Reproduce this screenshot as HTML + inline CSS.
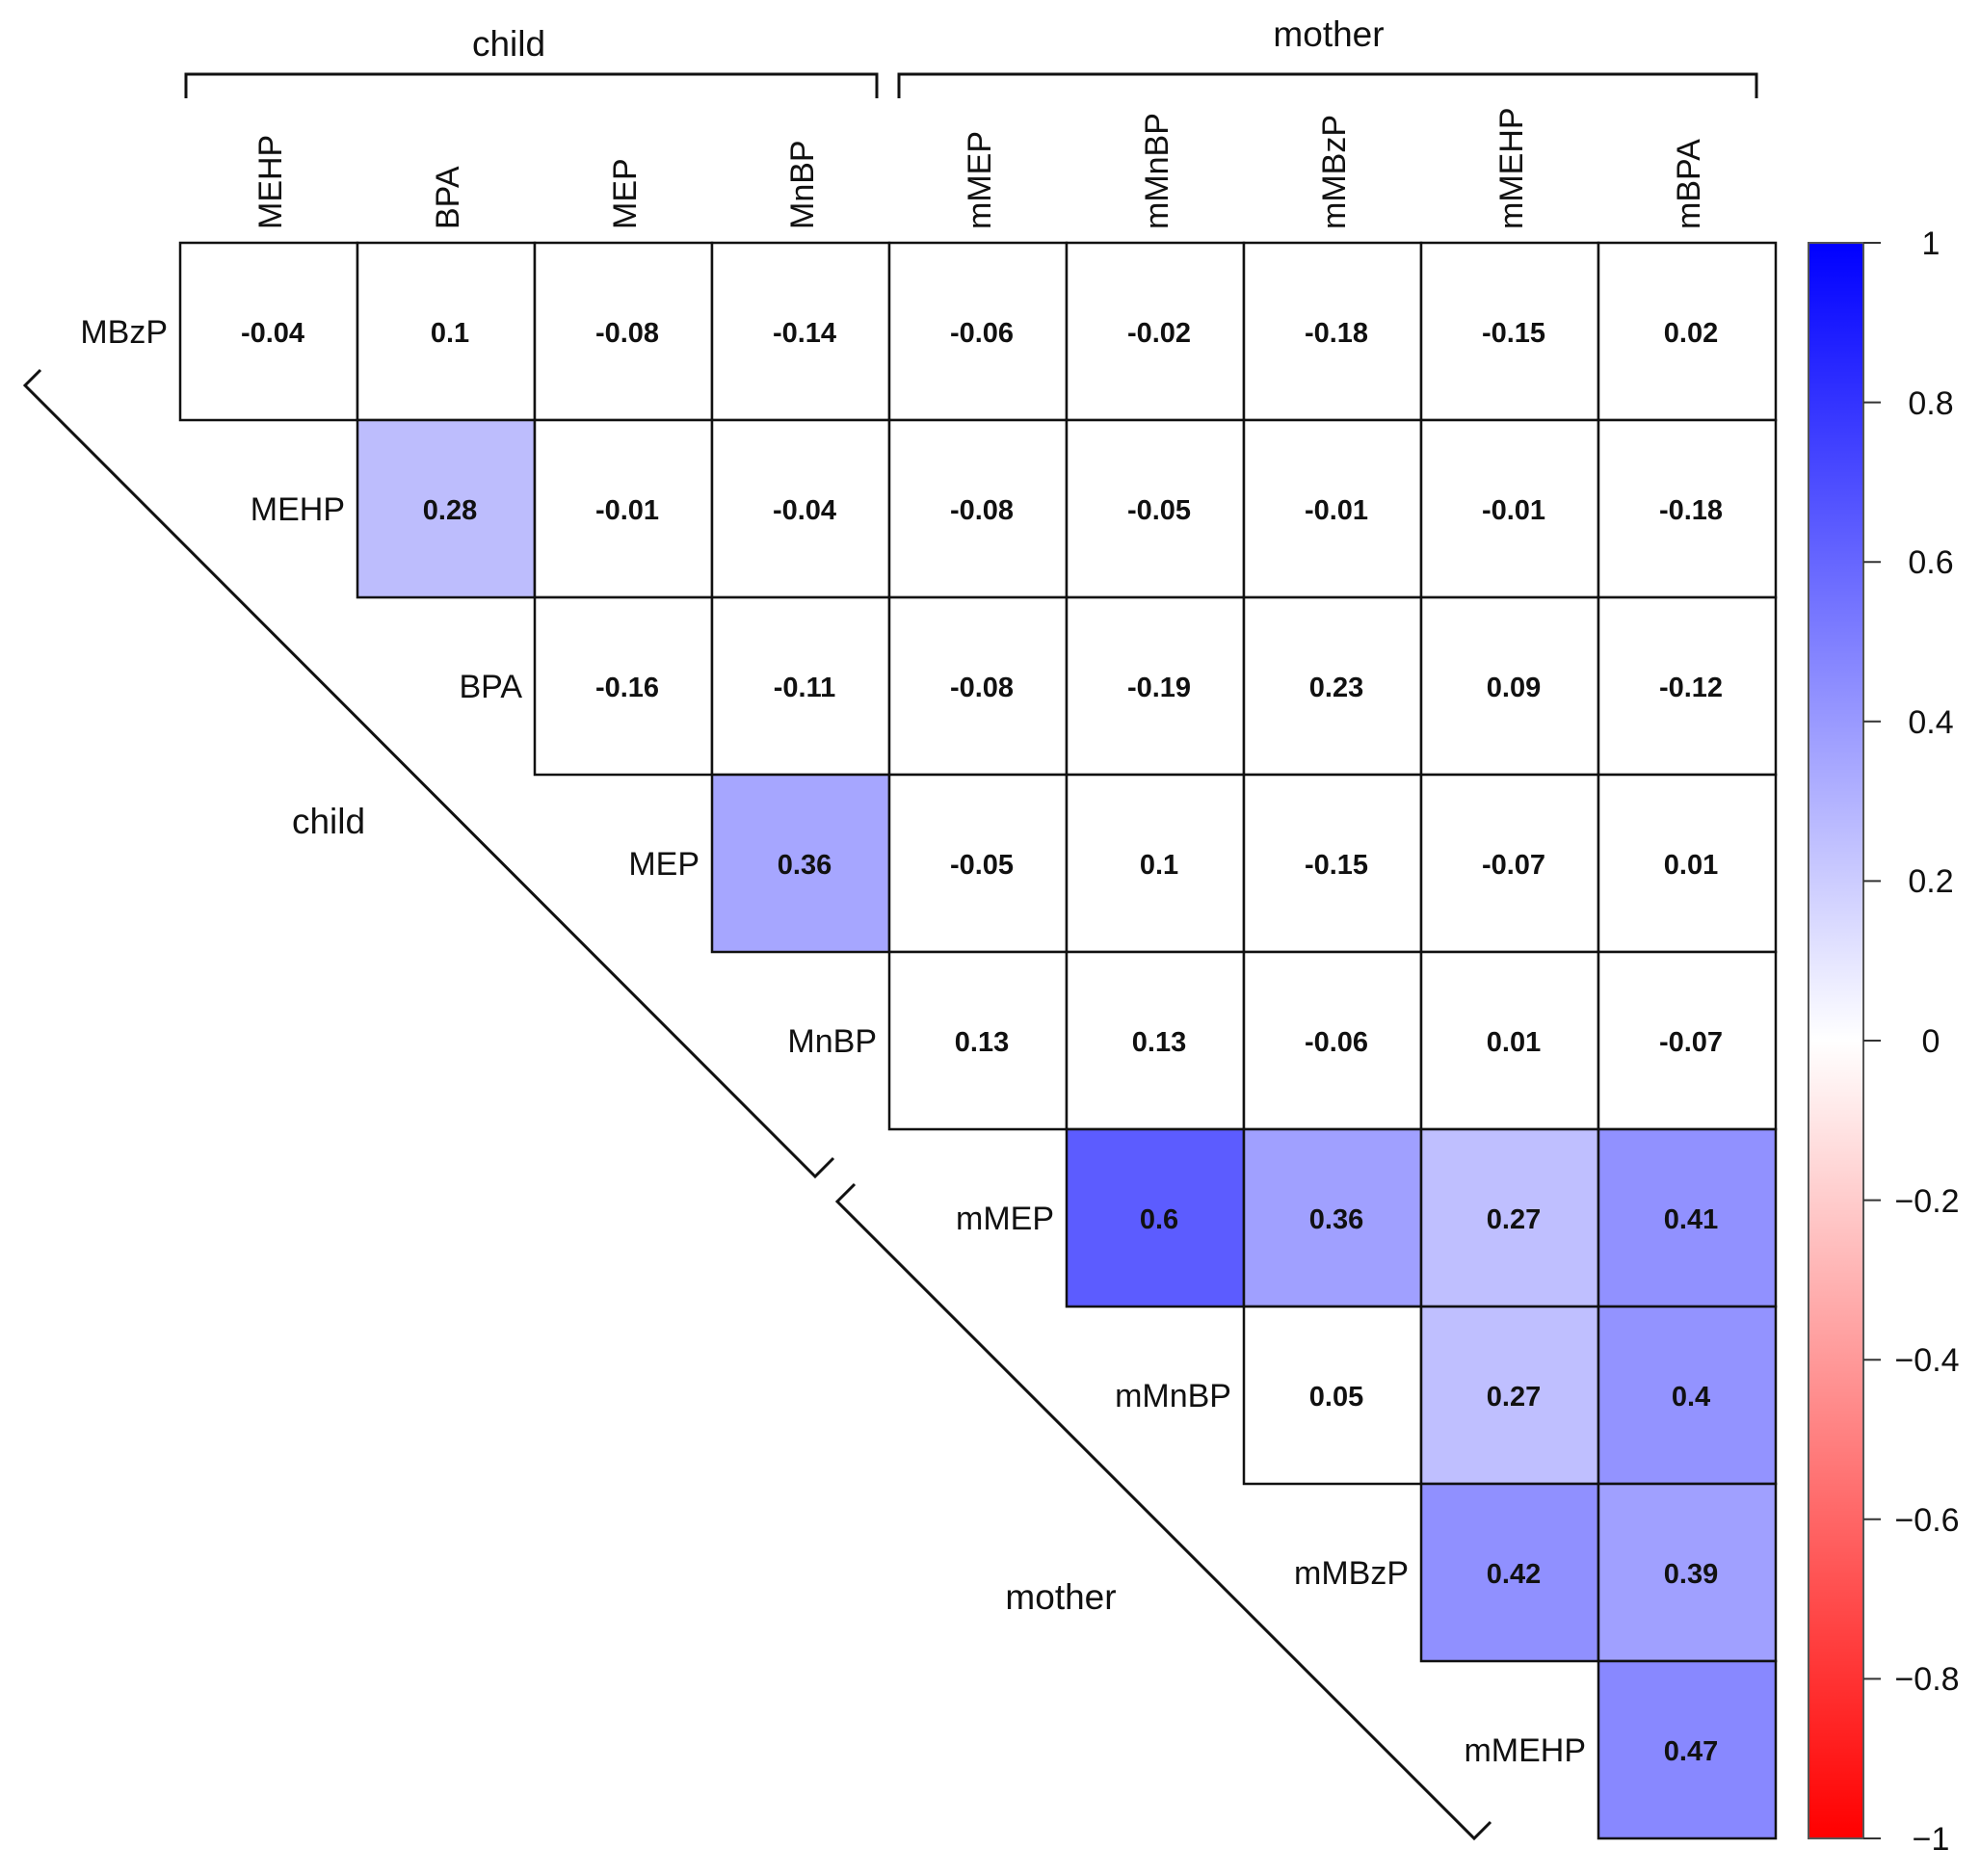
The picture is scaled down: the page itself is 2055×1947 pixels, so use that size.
<!DOCTYPE html>
<html><head><meta charset="utf-8"><style>
html,body{margin:0;padding:0;background:#fff}
svg{display:block}
text{font-family:"Liberation Sans",Arial,sans-serif;fill:#111}
.v{font-weight:bold;font-size:29px;text-anchor:middle}
.h{font-size:34px}
.r{font-size:34px;text-anchor:end}
.t{font-size:34px;text-anchor:middle}
</style></head><body>
<svg width="2055" height="1947" viewBox="0 0 2055 1947" xmlns="http://www.w3.org/2000/svg">
<defs>
<linearGradient id="cb" x1="0" y1="0" x2="0" y2="1">
<stop offset="0" stop-color="#0000ff"/>
<stop offset="0.5" stop-color="#ffffff"/>
<stop offset="1" stop-color="#ff0000"/>
</linearGradient>
</defs>
<text x="528" y="58" style="font-size:37px;text-anchor:middle">child</text>
<text x="1379" y="48" style="font-size:37px;text-anchor:middle">mother</text>
<g fill="none" stroke="#111" stroke-width="3">
<polyline points="193,102 193,77 910,77 910,102"/>
<polyline points="933,102 933,77 1823,77 1823,102"/>
<polyline points="42,384 26,400 846,1221 865,1202"/>
<polyline points="887,1229 869,1247 1530,1908 1547,1891"/>
</g>
<text x="341" y="865" style="font-size:37px;text-anchor:middle">child</text>
<text x="1101" y="1670" style="font-size:37px;text-anchor:middle">mother</text>
<g class="h">
<text transform="translate(292,238) rotate(-90)">MEHP</text>
<text transform="translate(476,238) rotate(-90)">BPA</text>
<text transform="translate(660,238) rotate(-90)">MEP</text>
<text transform="translate(844,238) rotate(-90)">MnBP</text>
<text transform="translate(1028,238) rotate(-90)">mMEP</text>
<text transform="translate(1212,238) rotate(-90)">mMnBP</text>
<text transform="translate(1396,238) rotate(-90)">mMBzP</text>
<text transform="translate(1580,238) rotate(-90)">mMEHP</text>
<text transform="translate(1764,238) rotate(-90)">mBPA</text>
</g>
<g class="r">
<text x="174" y="356">MBzP</text>
<text x="358" y="540">MEHP</text>
<text x="542" y="724">BPA</text>
<text x="726" y="908">MEP</text>
<text x="910" y="1092">MnBP</text>
<text x="1094" y="1276">mMEP</text>
<text x="1278" y="1460">mMnBP</text>
<text x="1462" y="1644">mMBzP</text>
<text x="1646" y="1828">mMEHP</text>
</g>
<g stroke="#111" stroke-width="2.5">
<rect x="187" y="252" width="184" height="184" fill="#fff"/>
<rect x="371" y="252" width="184" height="184" fill="#fff"/>
<rect x="555" y="252" width="184" height="184" fill="#fff"/>
<rect x="739" y="252" width="184" height="184" fill="#fff"/>
<rect x="923" y="252" width="184" height="184" fill="#fff"/>
<rect x="1107" y="252" width="184" height="184" fill="#fff"/>
<rect x="1291" y="252" width="184" height="184" fill="#fff"/>
<rect x="1475" y="252" width="184" height="184" fill="#fff"/>
<rect x="1659" y="252" width="184" height="184" fill="#fff"/>
<rect x="371" y="436" width="184" height="184" fill="#bdbdfd"/>
<rect x="555" y="436" width="184" height="184" fill="#fff"/>
<rect x="739" y="436" width="184" height="184" fill="#fff"/>
<rect x="923" y="436" width="184" height="184" fill="#fff"/>
<rect x="1107" y="436" width="184" height="184" fill="#fff"/>
<rect x="1291" y="436" width="184" height="184" fill="#fff"/>
<rect x="1475" y="436" width="184" height="184" fill="#fff"/>
<rect x="1659" y="436" width="184" height="184" fill="#fff"/>
<rect x="555" y="620" width="184" height="184" fill="#fff"/>
<rect x="739" y="620" width="184" height="184" fill="#fff"/>
<rect x="923" y="620" width="184" height="184" fill="#fff"/>
<rect x="1107" y="620" width="184" height="184" fill="#fff"/>
<rect x="1291" y="620" width="184" height="184" fill="#fff"/>
<rect x="1475" y="620" width="184" height="184" fill="#fff"/>
<rect x="1659" y="620" width="184" height="184" fill="#fff"/>
<rect x="739" y="804" width="184" height="184" fill="#a6a6ff"/>
<rect x="923" y="804" width="184" height="184" fill="#fff"/>
<rect x="1107" y="804" width="184" height="184" fill="#fff"/>
<rect x="1291" y="804" width="184" height="184" fill="#fff"/>
<rect x="1475" y="804" width="184" height="184" fill="#fff"/>
<rect x="1659" y="804" width="184" height="184" fill="#fff"/>
<rect x="923" y="988" width="184" height="184" fill="#fff"/>
<rect x="1107" y="988" width="184" height="184" fill="#fff"/>
<rect x="1291" y="988" width="184" height="184" fill="#fff"/>
<rect x="1475" y="988" width="184" height="184" fill="#fff"/>
<rect x="1659" y="988" width="184" height="184" fill="#fff"/>
<rect x="1107" y="1172" width="184" height="184" fill="#5c5cff"/>
<rect x="1291" y="1172" width="184" height="184" fill="#a0a0ff"/>
<rect x="1475" y="1172" width="184" height="184" fill="#bfbfff"/>
<rect x="1659" y="1172" width="184" height="184" fill="#9191ff"/>
<rect x="1291" y="1356" width="184" height="184" fill="#fff"/>
<rect x="1475" y="1356" width="184" height="184" fill="#bfbfff"/>
<rect x="1659" y="1356" width="184" height="184" fill="#9393ff"/>
<rect x="1475" y="1540" width="184" height="184" fill="#9090ff"/>
<rect x="1659" y="1540" width="184" height="184" fill="#a0a0ff"/>
<rect x="1659" y="1724" width="184" height="184" fill="#8888ff"/>
</g>
<g class="v">
<text x="283" y="355">-0.04</text><text x="467" y="355">0.1</text><text x="651" y="355">-0.08</text><text x="835" y="355">-0.14</text><text x="1019" y="355">-0.06</text><text x="1203" y="355">-0.02</text><text x="1387" y="355">-0.18</text><text x="1571" y="355">-0.15</text><text x="1755" y="355">0.02</text>
<text x="467" y="539">0.28</text><text x="651" y="539">-0.01</text><text x="835" y="539">-0.04</text><text x="1019" y="539">-0.08</text><text x="1203" y="539">-0.05</text><text x="1387" y="539">-0.01</text><text x="1571" y="539">-0.01</text><text x="1755" y="539">-0.18</text>
<text x="651" y="723">-0.16</text><text x="835" y="723">-0.11</text><text x="1019" y="723">-0.08</text><text x="1203" y="723">-0.19</text><text x="1387" y="723">0.23</text><text x="1571" y="723">0.09</text><text x="1755" y="723">-0.12</text>
<text x="835" y="907">0.36</text><text x="1019" y="907">-0.05</text><text x="1203" y="907">0.1</text><text x="1387" y="907">-0.15</text><text x="1571" y="907">-0.07</text><text x="1755" y="907">0.01</text>
<text x="1019" y="1091">0.13</text><text x="1203" y="1091">0.13</text><text x="1387" y="1091">-0.06</text><text x="1571" y="1091">0.01</text><text x="1755" y="1091">-0.07</text>
<text x="1203" y="1275">0.6</text><text x="1387" y="1275">0.36</text><text x="1571" y="1275">0.27</text><text x="1755" y="1275">0.41</text>
<text x="1387" y="1459">0.05</text><text x="1571" y="1459">0.27</text><text x="1755" y="1459">0.4</text>
<text x="1571" y="1643">0.42</text><text x="1755" y="1643">0.39</text>
<text x="1755" y="1827">0.47</text>
</g>
<rect x="1877" y="252" width="57" height="1656" fill="url(#cb)" stroke="#555" stroke-width="2"/>
<g stroke="#333" stroke-width="2">
<line x1="1934" y1="252" x2="1952" y2="252"/>
<line x1="1934" y1="417.6" x2="1952" y2="417.6"/>
<line x1="1934" y1="583.2" x2="1952" y2="583.2"/>
<line x1="1934" y1="748.8" x2="1952" y2="748.8"/>
<line x1="1934" y1="914.4" x2="1952" y2="914.4"/>
<line x1="1934" y1="1080" x2="1952" y2="1080"/>
<line x1="1934" y1="1245.6" x2="1952" y2="1245.6"/>
<line x1="1934" y1="1411.2" x2="1952" y2="1411.2"/>
<line x1="1934" y1="1576.8" x2="1952" y2="1576.8"/>
<line x1="1934" y1="1742.4" x2="1952" y2="1742.4"/>
<line x1="1934" y1="1908" x2="1952" y2="1908"/>
</g>
<g class="t">
<text x="2004" y="264">1</text>
<text x="2004" y="430">0.8</text>
<text x="2004" y="595">0.6</text>
<text x="2004" y="761">0.4</text>
<text x="2004" y="926">0.2</text>
<text x="2004" y="1092">0</text>
<text x="2000" y="1258">−0.2</text>
<text x="2000" y="1423">−0.4</text>
<text x="2000" y="1589">−0.6</text>
<text x="2000" y="1754">−0.8</text>
<text x="2004" y="1920">−1</text>
</g>
</svg>
</body></html>
